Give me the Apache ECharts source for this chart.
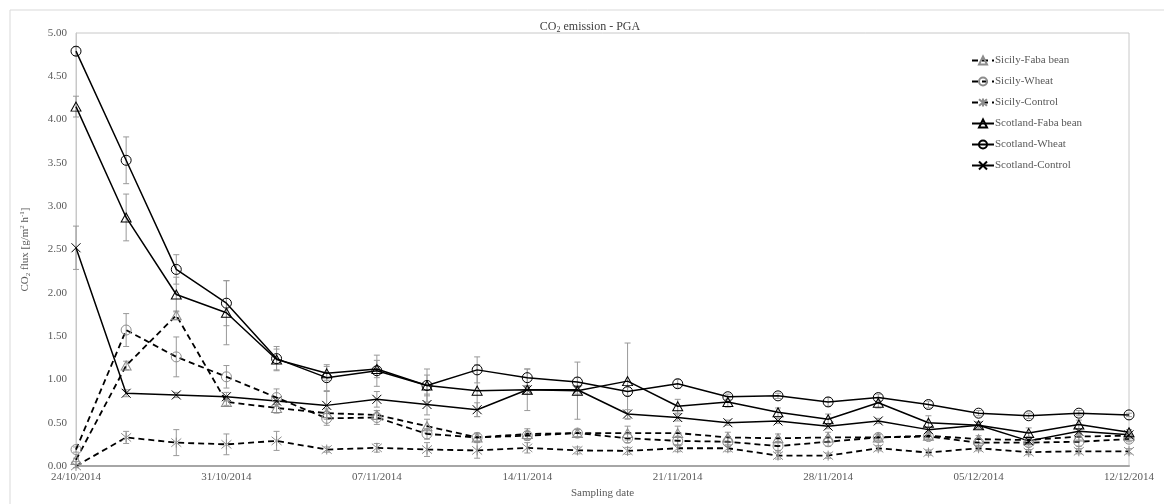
<!DOCTYPE html>
<html><head><meta charset="utf-8">
<script src="https://cdn.jsdelivr.net/npm/echarts@6/dist/echarts.min.js"></script>
<style>html,body{margin:0;padding:0;background:#fff}#c{width:1164px;height:504px}</style>
</head><body><div id="c"></div>
<script>
const dates = ['24/10/2014','27/10/2014','29/10/2014','31/10/2014','03/11/2014','05/11/2014','07/11/2014','10/11/2014','12/11/2014','14/11/2014','17/11/2014','19/11/2014','21/11/2014','24/11/2014','26/11/2014','28/11/2014','01/12/2014','03/12/2014','05/12/2014','08/12/2014','10/12/2014','12/12/2014'];
const seriesNames = ['Sicily-Faba bean','Sicily-Wheat','Sicily-Control','Scotland-Faba bean','Scotland-Wheat','Scotland-Control'];
const sicFaba    = [0.07,1.16,1.74,0.74,0.67,0.61,0.59,0.46,0.33,0.37,0.38,0.38,0.38,0.33,0.32,0.33,0.33,0.35,0.31,0.30,0.34,0.35];
const sicWheat   = [0.19,1.57,1.26,1.03,0.79,0.55,0.56,0.37,0.33,0.35,0.38,0.32,0.29,0.28,0.23,0.28,0.33,0.34,0.27,0.27,0.28,0.31];
const sicControl = [0.00,0.33,0.27,0.25,0.29,0.19,0.21,0.19,0.18,0.21,0.18,0.175,0.205,0.205,0.12,0.12,0.205,0.155,0.205,0.16,0.17,0.17];
const scoFaba    = [4.15,2.87,1.98,1.77,1.23,1.07,1.12,0.93,0.87,0.88,0.87,0.98,0.69,0.74,0.62,0.54,0.73,0.50,0.47,0.38,0.48,0.39];
const scoWheat   = [4.79,3.53,2.27,1.88,1.24,1.02,1.10,0.93,1.11,1.02,0.97,0.86,0.95,0.80,0.81,0.74,0.79,0.71,0.61,0.58,0.61,0.59];
const scoControl = [2.52,0.84,0.82,0.80,0.75,0.70,0.77,0.71,0.65,0.88,0.88,0.60,0.56,0.50,0.52,0.46,0.52,0.42,0.47,0.29,0.40,0.36];
const sicFabaErr    = [0.02,0.05,0.05,0.04,0.06,0.05,0.05,0.08,0.05,0.06,0.04,0.08,0.08,0.06,0.05,0.06,0.04,0.04,0.04,0.04,0.04,0.03];
const sicWheatErr   = [0.03,0.19,0.23,0.13,0.10,0.08,0.08,0.06,0.04,0.05,0.04,0.05,0.05,0.05,0.05,0.05,0.03,0.03,0.04,0.04,0.05,0.03];
const sicControlErr = [0.02,0.07,0.15,0.12,0.11,0.03,0.05,0.08,0.09,0.06,0.04,0.04,0.04,0.04,0.04,0.03,0.03,0.03,0.03,0.03,0.03,0.03];
const scoFabaErr    = [0.12,0.27,0.20,0.37,0.12,0.08,0.10,0.19,0.30,0.24,0.33,0.44,0.08,0.06,0.05,0.06,0.06,0.08,0.04,0.06,0.05,0.03];
const scoWheatErr   = [0.05,0.27,0.17,0.26,0.14,0.15,0.18,0.12,0.15,0.10,0.05,0.05,0.05,0.03,0.03,0.05,0.04,0.04,0.03,0.03,0.03,0.02];
const scoControlErr = [0.25,0.04,0.03,0.05,0.04,0.16,0.09,0.12,0.08,0.05,0.05,0.05,0.04,0.03,0.03,0.03,0.03,0.03,0.03,0.03,0.03,0.03];
const yTicks = {min: 0, max: 5, interval: 0.5};

const FONT = 'Liberation Serif';
const TXT = '#595959';
const GREY = '#8c8c8c';
const xSym = 'path://M0,0L10,10M10,0L0,10';
const starSym = 'path://M0,0L10,10M10,0L0,10M5,-1L5,11';

const values = [sicFaba, sicWheat, sicControl, scoFaba, scoWheat, scoControl];
const errs = [sicFabaErr, sicWheatErr, sicControlErr, scoFabaErr, scoWheatErr, scoControlErr];
const styles = [
  {dash:true, symbol:'triangle', size:[10,9]},
  {dash:true, symbol:'circle', size:10},
  {dash:true, symbol:starSym, size:10},
  {dash:false, symbol:'triangle', size:[10,9]},
  {dash:false, symbol:'circle', size:10},
  {dash:false, symbol:xSym, size:9}
];

function errRender(params, api) {
  const x = api.value(0), y = api.value(1), e = api.value(2);
  if (!e) return;
  const t = api.coord([x, y + e]), b = api.coord([x, y - e]);
  const w = 3, st = {stroke: '#999', lineWidth: 1};
  return {type: 'group', children: [
    {type: 'line', shape: {x1: t[0], y1: t[1], x2: b[0], y2: b[1]}, style: st},
    {type: 'line', shape: {x1: t[0]-w, y1: t[1], x2: t[0]+w, y2: t[1]}, style: st},
    {type: 'line', shape: {x1: b[0]-w, y1: b[1], x2: b[0]+w, y2: b[1]}, style: st}
  ]};
}

const series = [];
seriesNames.forEach((n, k) => {
  series.push({
    type: 'custom', name: n + ' err', renderItem: errRender, silent: true, z: 1,
    encode: {x: 0, y: 1},
    data: values[k].map((v, i) => [i, v, errs[k][i]])
  });
});
seriesNames.forEach((n, k) => {
  const s = styles[k];
  const mc = s.dash ? GREY : '#000';
  series.push({
    type: 'line', name: n, data: values[k], z: 3,
    symbol: s.symbol, symbolSize: s.size, showAllSymbol: true,
    lineStyle: {color: '#000', width: s.dash ? 1.8 : 1.5, type: s.dash ? [6, 4] : 'solid'},
    itemStyle: {color: 'rgba(0,0,0,0)', borderColor: mc, borderWidth: 1},
    emphasis: {disabled: true}
  });
});

const chart = echarts.init(document.getElementById('c'), null, {renderer: 'canvas'});
chart.setOption({
  backgroundColor: '#fff',
  animation: false,
  graphic: [{type: 'rect', shape: {x: 10, y: 10, width: 1170, height: 520}, style: {fill: 'none', stroke: '#d9d9d9', lineWidth: 1}, silent: true}],
  title: {
    text: 'CO{sub|2} emission - PGA', left: 585, top: 15, textAlign: 'center',
    textStyle: {fontFamily: FONT, fontSize: 12, fontWeight: 'normal', color: '#404040',
      rich: {sub: {fontFamily: FONT, fontSize: 8, color: '#404040', padding: [6, 0, 0, 0]}}}
  },
  legend: {
    data: seriesNames, orient: 'vertical', left: 966, top: 50,
    itemWidth: 22, itemHeight: 10, itemGap: 10,
    textStyle: {fontFamily: FONT, fontSize: 11, color: TXT, padding: [0, 0, 0, -4]}
  },
  grid: {left: 76, right: 35, top: 33, bottom: 32, show: true, borderColor: '#c8c8c8', borderWidth: 1},
  xAxis: {
    type: 'category', data: dates, boundaryGap: false,
    name: 'Sampling date', nameLocation: 'middle', nameGap: 22,
    nameTextStyle: {fontFamily: FONT, fontSize: 11, color: TXT},
    axisLine: {lineStyle: {color: '#a6a6a6', width: 2}},
    axisTick: {show: false},
    axisLabel: {interval: 2, fontFamily: FONT, fontSize: 11, color: TXT, margin: 6},
    splitLine: {show: false}
  },
  yAxis: {
    type: 'value', min: yTicks.min, max: yTicks.max, interval: yTicks.interval,
    name: 'CO{sub|2} flux [g/m{sup|2} h{sup|-1}]', nameLocation: 'middle', nameGap: 44, nameRotate: 90,
    nameTextStyle: {fontFamily: FONT, fontSize: 11, color: TXT,
      rich: {sub: {fontFamily: FONT, fontSize: 7, color: TXT, padding: [6, 0, 0, 0]},
             sup: {fontFamily: FONT, fontSize: 7, color: TXT, padding: [0, 0, 6, 0]}}},
    axisLine: {show: true, lineStyle: {color: '#c8c8c8', width: 1}},
    axisTick: {show: false},
    axisLabel: {fontFamily: FONT, fontSize: 11, color: TXT, margin: 9, formatter: v => v.toFixed(2)},
    splitLine: {show: false}
  },
  series: series
});
</script></body></html>
